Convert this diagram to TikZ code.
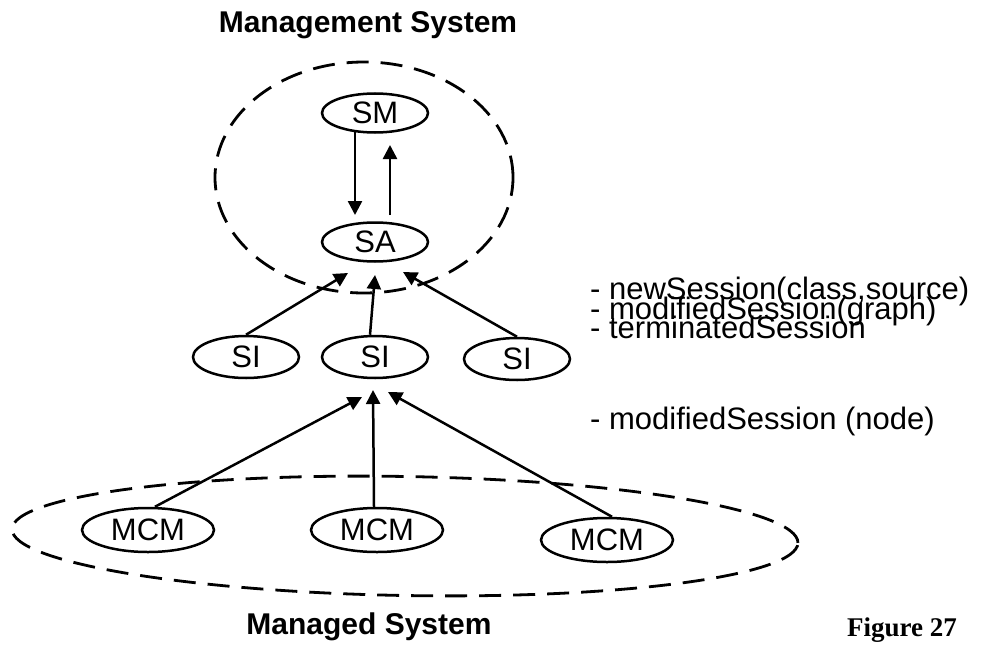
\documentclass[tikz,border=0pt]{standalone}
\usepackage{fontspec}
\setmainfont{Liberation Sans}
\newfontfamily\captionfont{Liberation Serif}
\usetikzlibrary{arrows.meta,shapes.geometric,calc}

\begin{document}
\begin{tikzpicture}[x=1pt,y=-1pt,
  comp/.style={draw, ellipse, line width=2.5pt, inner sep=0pt,
    font=\fontsize{31}{31}\selectfont},
  smallcomp/.style={comp, minimum width=106pt, minimum height=39pt},
  sicomp/.style={comp, minimum width=106pt, minimum height=42pt},
  widecomp/.style={comp, minimum width=132pt, minimum height=44pt},
  groupring/.style={draw, ellipse, line width=2.8pt,
    dash pattern=on 22pt off 12pt, inner sep=0pt},
  msg/.style={-{Triangle[length=14pt,width=14pt]}, line width=2.5pt},
  heading/.style={font=\bfseries\fontsize{30}{30}\selectfont,
    anchor=base, inner sep=0pt},
  note/.style={font=\fontsize{31}{31}\selectfont,
    anchor=base west, inner sep=0pt}
]
\useasboundingbox (0,0) rectangle (981,650);

% system boundaries
\node[groupring, minimum width=298pt, minimum height=231pt]
  (mgmt) at (364,177.5) {};
\node[groupring, minimum width=786pt, minimum height=119pt, rotate=-1]
  (managed) at (405,536) {};

% components
\node[smallcomp] (SM) at (375,113) {SM};
\node[smallcomp] (SA) at (375,242) {SA};
\node[sicomp] (SIa) at (246,357) {SI};
\node[sicomp] (SIb) at (375,357) {SI};
\node[sicomp] (SIc) at (517,359) {SI};
\node[widecomp] (MCMa) at (148,530) {MCM};
\node[widecomp] (MCMb) at (377,530) {MCM};
\node[widecomp] (MCMc) at (607,540) {MCM};

% SM <-> SA
\draw[msg] ($(SM.center)+(-20,18)$) -- ($(SA.center)+(-20,-27)$);
\draw[msg] ($(SA.center)+(15,-27)$) -- ($(SM.center)+(15,32)$);

% SI -> SA
\draw[msg] (SIa.north) -- ($(SA.center)+(-27,31)$);
\draw[msg] ($(SIb.north)+(-5,0)$) -- ($(SA.center)+(0,33)$);
\draw[msg] (SIc.north) -- ($(SA.center)+(28,30)$);

% MCM -> SI
\draw[msg] ($(MCMa.north)+(7,0)$) -- ($(SIb.center)+(-13,40)$);
\draw[msg] ($(MCMb.north)+(-3,0)$) -- ($(SIb.center)+(-2,33)$);
\draw[msg] ($(MCMc.north)+(5,0)$) -- ($(SIb.center)+(13,35)$);

% labels
\node[heading] (mgmtTitle) at (368,33) {Management System};
\node[heading] (managedTitle) at (369,634) {Managed System};

\node[note] (n1) at (590,299) {- newSession(class,source)};
\node[note] (n2) at (590,319) {- modifiedSession(graph)};
\node[note] (n3) at (590,338) {- terminatedSession};
\node[note] (n4) at (590,429) {- modifiedSession (node)};

\node[font=\captionfont\bfseries\fontsize{27}{27}\selectfont,
  anchor=base west, inner sep=0pt] (fig) at (847,636) {Figure 27};
\end{tikzpicture}
\end{document}
